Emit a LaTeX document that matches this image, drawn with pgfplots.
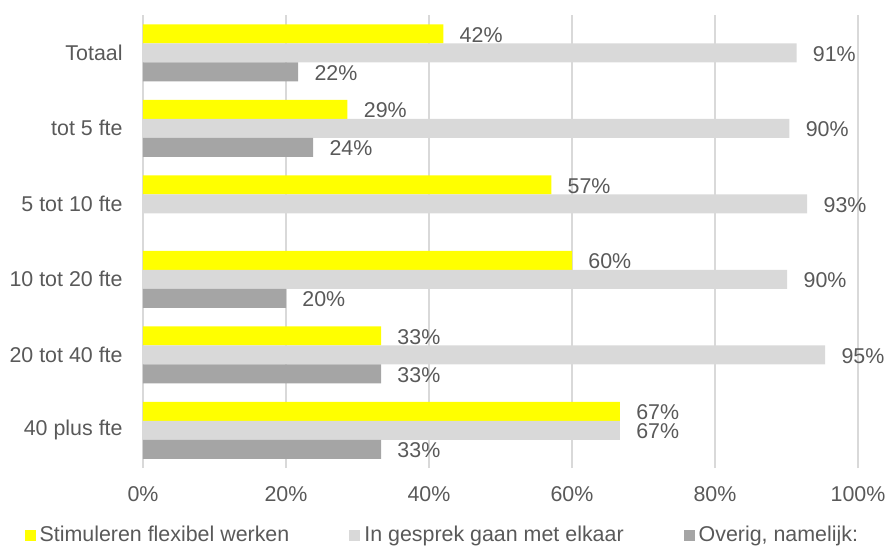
\documentclass[border=0pt]{standalone}
\usepackage{fontspec}
\setmainfont{Liberation Sans}
\usepackage{pgfplots}
\pgfplotsset{compat=1.18}
\definecolor{txt}{HTML}{595959}
\definecolor{grd}{HTML}{D9D9D9}
\definecolor{ylw}{HTML}{FFFF00}
\definecolor{lgr}{HTML}{D9D9D9}
\definecolor{dgr}{HTML}{A5A5A5}
\begin{document}
\begin{tikzpicture}[font=\fontsize{10.7}{12.8}\selectfont]
\path[use as bounding box] (-71.5pt,-39.5pt) rectangle (372pt,234pt);
\begin{axis}[
  at={(0,0)}, anchor=south west,
  scale only axis, width=357.5pt, height=226.5pt,
  xbar, bar width=9.5pt,
  xmin=0, xmax=100, ymin=-0.5, ymax=5.5,
  xtick={0,20,40,60,80,100},
  xticklabels={0\%,20\%,40\%,60\%,80\%,100\%},
  ytick={0,1,2,3,4,5},
  yticklabels={40 plus fte,20 tot 40 fte,10 tot 20 fte,5 tot 10 fte,tot 5 fte,Totaal},
  xmajorgrids, ymajorgrids=false,
  grid style={grd, line width=0.6pt},
  axis line style={draw=none},
  major tick length=0pt,
  tick style={draw=none},
  /pgf/number format/assume math mode=true,
  ticklabel style={text=txt, inner sep=0pt},
  yticklabel style={anchor=east, xshift=-10pt},
  xticklabel style={anchor=north, yshift=-9pt},
  nodes near coords={\pgfmathprintnumber[fixed,precision=0]{\pgfplotspointmeta}\%},
  point meta=x,
  every node near coord/.append style={text=txt, anchor=west, inner sep=0pt, xshift=8pt, yshift=-0.5pt},
  legend style={at={(0.42,-0.148)}, anchor=center, draw=none, fill=none, text=txt,
    legend columns=3, /tikz/every even column/.append style={column sep=28pt},
    inner sep=0pt},
  legend cell align=left,
]
\addplot[fill=ylw, draw=none, bar shift=9.5pt,
  legend image code/.code={\fill[ylw] (0pt,-2.75pt) rectangle (5.5pt,2.75pt);}]
  coordinates {(42,5) (28.6,4) (57.1,3) (60,2) (33.3,1) (66.7,0)};
\addplot[fill=lgr, draw=none, bar shift=0pt,
  legend image code/.code={\fill[lgr] (0pt,-2.75pt) rectangle (5.5pt,2.75pt);}]
  coordinates {(91.4,5) (90.4,4) (92.9,3) (90.1,2) (95.4,1) (66.7,0)};
\addplot[fill=dgr, draw=none, bar shift=-9.5pt,
  legend image code/.code={\fill[dgr] (0pt,-2.75pt) rectangle (5.5pt,2.75pt);}]
  coordinates {(21.7,5) (23.8,4) (20,2) (33.3,1) (33.3,0)};
\legend{Stimuleren flexibel werken, In gesprek gaan met elkaar, {Overig, namelijk:}}
\end{axis}
\end{tikzpicture}
\end{document}
